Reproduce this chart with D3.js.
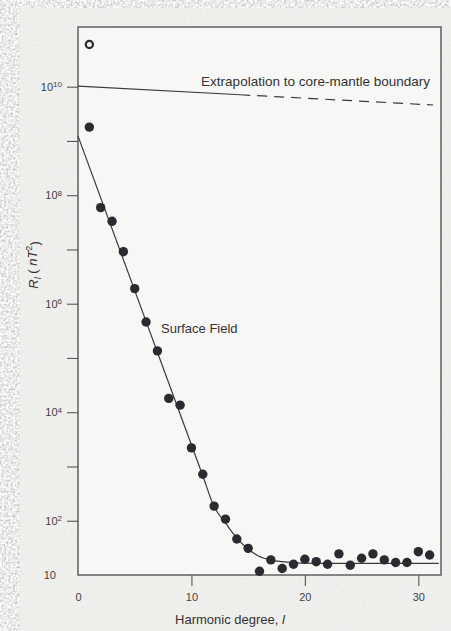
<!DOCTYPE html>
<html>
<head>
<meta charset="utf-8">
<script src="https://cdn.jsdelivr.net/npm/d3@7"></script>
<style>
    body { margin: 0; background: #d2d2d0; }
    svg { display: block; font-family: "Liberation Sans", Arial, sans-serif; }
</style>
</head>
<body>
<div id="chart"></div>
<script>
'use strict';

// ── Data ──

var degrees = [1, 2, 3, 4, 5, 6, 7, 8, 9, 10, 11, 12, 13, 14, 15, 16,
               17, 18, 19, 20, 21, 22, 23, 24, 25, 26, 27, 28, 29, 30, 31];
var surfacePower = [1.8e9, 5.9e7, 3.3e7, 9.1e6, 1.9e6, 4.6e5, 1.35e5, 1.8e4, 1.35e4, 2.2e3,
                    720, 186, 107, 46, 31, 11.7, 19, 13.2, 15.8, 19.5, 17.6, 15.8, 24.5,
                    15.1, 20.4, 24.5, 19, 17, 17, 26.9, 23.4];

// dipole term taken down to the core-mantle boundary (open circle)
var cmbDegrees = [1];
var cmbPower = [6.0e10];

// fitted surface-field curve
var fitDegrees = [0, 6, 11, 12, 13, 14, 15, 16, 17, 18, 19, 20, 22, 31.8];
var fitPower = [1.23e9, 4.73e5, 676, 182, 91, 47.9, 30.2, 21.9, 18.8, 17.6, 16.9, 16.5, 16.4, 16.4];

// extrapolation to the core-mantle boundary: solid part, then dashed part
var extrapSolidDeg = [0, 14.3];
var extrapSolidPower = [1.02e10, 7.1e9];
var extrapDashDeg = [14.3, 31.3];
var extrapDashPower = [7.1e9, 4.6e9];

var xTicks = [0, 10, 20, 30];
var yTicks = [10, 1e2, 1e3, 1e4, 1e5, 1e6, 1e7, 1e8, 1e9, 1e10];
var yLabelExps = [1, 2, 4, 6, 8, 10];

// ── Layout ──

var W = 451, H = 631;
var plotL = 78, plotR = 441, plotT = 27, plotB = 575;

var svg = d3.select('#chart').append('svg')
    .attr('width', W).attr('height', H)
    .attr('xmlns', 'http://www.w3.org/2000/svg');

var defs = svg.append('defs');
var grain = defs.append('filter').attr('id', 'grain')
    .attr('x', 0).attr('y', 0).attr('width', '100%').attr('height', '100%');
grain.append('feTurbulence')
    .attr('type', 'fractalNoise').attr('baseFrequency', 0.45)
    .attr('numOctaves', 2).attr('seed', 7);
grain.append('feColorMatrix').attr('type', 'matrix')
    .attr('values', '0 0.9 0 0 0.38  0 0.9 0 0 0.38  0 0.9 0 0 0.37  0 0 0 0 1');

// textured page background, paper, plot area
svg.append('rect').attr('width', W).attr('height', H).attr('filter', 'url(#grain)');
svg.append('rect').attr('x', 20).attr('y', 8).attr('width', W - 20).attr('height', H - 8)
    .style('fill', '#eeeeec').style('opacity', 0.9);
svg.append('rect').attr('x', plotL).attr('y', plotT)
    .attr('width', plotR - plotL).attr('height', plotB - plotT)
    .style('fill', '#f7f7f5');

var x = d3.scaleLinear().domain([0, 32]).range([plotL, plotR]);
var y = d3.scaleLog().domain([10, Math.pow(10, 11.1)]).range([plotB, plotT]);

var ink = '#2a2a30';
var labelColor = '#3f3f3f';

// ── Axes ──

var yAxis = svg.append('g')
    .attr('transform', 'translate(' + plotL + ',0)')
    .call(d3.axisLeft(y).tickValues(yTicks).tickSize(11).tickPadding(5)
        .tickFormat(function() { return ''; }));
yAxis.select('.domain').remove();
yAxis.selectAll('.tick line').style('stroke', '#555').style('stroke-width', 1.1)
    .style('opacity', function(d) { return d === 10 ? 0 : 1; });
yAxis.selectAll('.tick text')
    .style('font-size', '11px').style('fill', labelColor).style('font-family', 'inherit')
    .attr('dx', function(d) { return d === 10 ? -6 : 0; })
    .each(function(d) {
        var e = Math.round(Math.log10(d));
        if (yLabelExps.indexOf(e) < 0) return;
        var t = d3.select(this);
        t.append('tspan').text('10');
        if (e > 1) t.append('tspan').attr('dy', '-0.45em').style('font-size', '8px').text(e);
    });

var xAxis = svg.append('g')
    .attr('transform', 'translate(0,' + plotB + ')')
    .call(d3.axisBottom(x).tickValues(xTicks).tickSize(11).tickPadding(7));
xAxis.select('.domain').remove();
xAxis.selectAll('.tick line').style('stroke', '#555').style('stroke-width', 1.1)
    .style('opacity', function(d) { return d === 0 ? 0 : 1; });
xAxis.selectAll('.tick text')
    .style('font-size', '11px').style('fill', labelColor).style('font-family', 'inherit');

// frame
svg.append('rect').attr('x', plotL).attr('y', plotT)
    .attr('width', plotR - plotL).attr('height', plotB - plotT)
    .style('fill', 'none').style('stroke', '#555').style('stroke-width', 1.4);

// ── Curves ──

var lineFn = d3.line()
    .x(function(d) { return x(d[0]); })
    .y(function(d) { return y(d[1]); });

svg.append('path')
    .datum(d3.zip(fitDegrees, fitPower))
    .attr('d', lineFn.curve(d3.curveMonotoneX))
    .style('fill', 'none').style('stroke', '#3a3a3a').style('stroke-width', 1.2);

lineFn.curve(d3.curveLinear);
svg.append('path')
    .datum(d3.zip(extrapSolidDeg, extrapSolidPower))
    .attr('d', lineFn)
    .style('fill', 'none').style('stroke', '#3a3a3a').style('stroke-width', 1.2);
svg.append('path')
    .datum(d3.zip(extrapDashDeg, extrapDashPower))
    .attr('d', lineFn)
    .style('fill', 'none').style('stroke', '#3a3a3a').style('stroke-width', 1.2)
    .style('stroke-dasharray', '10,7');

// ── Points ──

svg.selectAll('.dot')
    .data(d3.zip(degrees, surfacePower)).enter()
    .append('circle').attr('class', 'dot')
    .attr('cx', function(d) { return x(d[0]); })
    .attr('cy', function(d) { return y(d[1]); })
    .attr('r', 4.7)
    .style('fill', ink);

svg.selectAll('.cmb')
    .data(d3.zip(cmbDegrees, cmbPower)).enter()
    .append('circle').attr('class', 'cmb')
    .attr('cx', function(d) { return x(d[0]); })
    .attr('cy', function(d) { return y(d[1]); })
    .attr('r', 3.6)
    .style('fill', 'none').style('stroke', ink).style('stroke-width', 2.2);

// ── Labels ──

svg.append('text')
    .attr('x', 430).attr('y', 86)
    .attr('text-anchor', 'end')
    .style('font-size', '13.5px').style('fill', '#333')
    .text('Extrapolation to core-mantle boundary');

svg.append('text')
    .attr('x', 161).attr('y', 333)
    .style('font-size', '13px').style('fill', '#333')
    .text('Surface Field');

var xt = svg.append('text')
    .attr('x', 230).attr('y', 624)
    .attr('text-anchor', 'middle')
    .style('font-size', '13px').style('fill', '#333');
xt.append('tspan').text('Harmonic degree, ');
xt.append('tspan').style('font-style', 'italic').text('l');

var yt = svg.append('text')
    .attr('transform', 'translate(38,265) rotate(-90)')
    .attr('text-anchor', 'middle')
    .style('font-size', '13px').style('fill', '#333');
yt.append('tspan').style('font-style', 'italic').text('R');
yt.append('tspan').style('font-style', 'italic').style('font-size', '9px').attr('dy', '0.3em').text('l');
yt.append('tspan').attr('dy', '-0.3em').text(' ( ');
yt.append('tspan').style('font-style', 'italic').text('nT');
yt.append('tspan').style('font-size', '9px').attr('dy', '-0.5em').text('2');
yt.append('tspan').attr('dy', '0.5em').text(')');
</script>
</body>
</html>
